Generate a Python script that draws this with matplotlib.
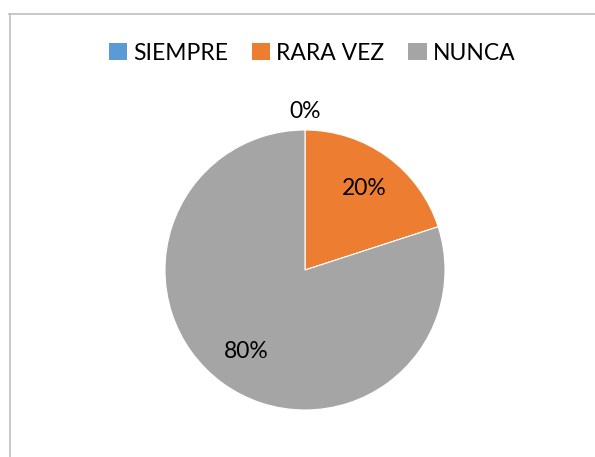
import matplotlib
matplotlib.use("Agg")
import matplotlib.pyplot as plt
from matplotlib.lines import Line2D
from matplotlib.patches import Patch
import numpy as np

plt.rcParams['font.family'] = ['Lato', 'DejaVu Sans']

categories = ["SIEMPRE", "RARA VEZ", "NUNCA"]
values = [0, 20, 80]
labels = ["0%", "20%", "80%"]
colors = ["#5B9BD5", "#ED7D31", "#A5A5A5"]

W, H = 595, 457
fig = plt.figure(figsize=(W / 100, H / 100), dpi=100)

cx, cy, r = 305, 270, 140
ax = fig.add_axes([(cx - r) / W, (H - cy - r) / H, 2 * r / W, 2 * r / H])
wedges, _ = ax.pie(values, colors=colors, startangle=90, counterclock=False,
                   radius=1, wedgeprops=dict(edgecolor="white", linewidth=0.8))
ax.set_xlim(-1, 1)
ax.set_ylim(-1, 1)
ax.set_aspect("auto")
ax.axis("off")

# labels
total = sum(values)
start = 90.0
for v, lab in zip(values, labels):
    span = 360.0 * v / total
    mid = np.deg2rad(start - span / 2)
    dist = 0.72 if v > 0 else 1.13
    ax.text(dist * np.cos(mid), dist * np.sin(mid), lab, ha="center", va="center",
            fontsize=16.5, color="#000000")
    start -= span

handles = [Patch(facecolor=c, edgecolor="none") for c in colors]
fig.legend(handles, categories, loc="center", bbox_to_anchor=(312 / W, 1 - 53 / H),
           ncol=3, frameon=False, fontsize=16.5, handlelength=0.8, handleheight=0.8,
           handletextpad=0.25, columnspacing=1.05)

# chart border (top and left visible)
lc = "#BFBFBF"
fig.add_artist(Line2D([9 / W, 1], [1 - 14 / H, 1 - 14 / H], color=lc, linewidth=1.2,
                      transform=fig.transFigure))
fig.add_artist(Line2D([10 / W, 10 / W], [0, 1 - 14 / H], color=lc, linewidth=1.2,
                      transform=fig.transFigure))

fig.savefig("out.png", dpi=100, facecolor="white")
